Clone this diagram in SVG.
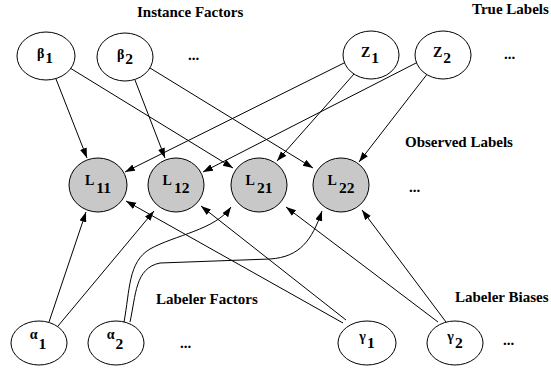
<svg xmlns="http://www.w3.org/2000/svg" width="551" height="368" viewBox="0 0 551 368">
<style>
.n{fill:#fff;stroke:#000;stroke-width:1}
.o{fill:#c8c8c8;stroke:#000;stroke-width:1}
text{font-family:"Liberation Serif","Times New Roman",serif;font-weight:bold;fill:#000}
.m{font-size:14px}
.s{font-size:15.5px}
.t{font-size:15px}
.e{fill:none;stroke:#000;stroke-width:1;marker-end:url(#a)}
</style>
<defs>
<marker id="a" markerUnits="userSpaceOnUse" markerWidth="11" markerHeight="8" refX="10" refY="3.5" orient="auto">
<path d="M0,0 L10,3.5 L0,7 z" fill="#000"/>
</marker>
</defs>
<rect width="551" height="368" fill="#fff"/>
<g id="connectors">
<path class="e" d="M56,79 L87,158"/>
<path class="e" d="M70,68 L233,168"/>
<path class="e" d="M135,80 L165,158"/>
<path class="e" d="M150,68 L313,168"/>
<path class="e" d="M346,62 L125,172"/>
<path class="e" d="M354,74 L277,161"/>
<path class="e" d="M418,62 L203,172"/>
<path class="e" d="M428,73 L359,162"/>
<path class="e" d="M49,322 L86,212"/>
<path class="e" d="M58,326 L154,211"/>
<path class="e" d="M124,322 C130,290 128,262 150,249 C175,235 215,230 231,207"/>
<path class="e" d="M130,322 C136,295 135,268 160,263 L270,259 C300,257 312,240 322,211"/>
<path class="e" d="M343,323 L126,201"/>
<path class="e" d="M346,320 L201,206"/>
<path class="e" d="M438,322 L286,207"/>
<path class="e" d="M446,322 L362,210"/>
</g>
<g id="beta1"><ellipse class="n" cx="46" cy="56" rx="29" ry="24"/><text x="45" y="58" text-anchor="middle"><tspan class="m">β</tspan><tspan class="s" dx="1" dy="5">1</tspan></text></g>
<g id="beta2"><ellipse class="n" cx="125" cy="57" rx="28" ry="24"/><text x="125" y="59" text-anchor="middle"><tspan class="m">β</tspan><tspan class="s" dx="1" dy="5">2</tspan></text></g>
<g id="z1"><ellipse class="n" cx="371" cy="55" rx="28" ry="24"/><text x="370" y="57" text-anchor="middle"><tspan class="m">Z</tspan><tspan class="s" dx="1" dy="6">1</tspan></text></g>
<g id="z2"><ellipse class="n" cx="443" cy="55" rx="28" ry="24"/><text x="442" y="57" text-anchor="middle"><tspan class="m">Z</tspan><tspan class="s" dx="1" dy="6">2</tspan></text></g>
<g id="l11"><ellipse class="o" cx="98" cy="185" rx="29" ry="27"/><text x="98" y="185" text-anchor="middle"><tspan class="m">L</tspan><tspan class="s" dx="2" dy="8">11</tspan></text></g>
<g id="l12"><ellipse class="o" cx="176" cy="185" rx="28" ry="27"/><text x="176" y="185" text-anchor="middle"><tspan class="m">L</tspan><tspan class="s" dx="2" dy="8">12</tspan></text></g>
<g id="l21"><ellipse class="o" cx="259" cy="185" rx="28" ry="27"/><text x="259" y="185" text-anchor="middle"><tspan class="m">L</tspan><tspan class="s" dx="2" dy="8">21</tspan></text></g>
<g id="l22"><ellipse class="o" cx="341" cy="185" rx="28" ry="27"/><text x="341" y="185" text-anchor="middle"><tspan class="m">L</tspan><tspan class="s" dx="2" dy="8">22</tspan></text></g>
<g id="alpha1"><ellipse class="n" cx="39" cy="343" rx="28" ry="22"/><text x="38" y="339" text-anchor="middle"><tspan class="m">α</tspan><tspan class="s" dx="1" dy="10">1</tspan></text></g>
<g id="alpha2"><ellipse class="n" cx="116" cy="343" rx="28" ry="22"/><text x="115" y="339" text-anchor="middle"><tspan class="m">α</tspan><tspan class="s" dx="1" dy="10">2</tspan></text></g>
<g id="gamma1"><ellipse class="n" cx="367" cy="343" rx="29" ry="22"/><text x="367" y="341" text-anchor="middle"><tspan class="m">γ</tspan><tspan class="s" dx="1" dy="7">1</tspan></text></g>
<g id="gamma2"><ellipse class="n" cx="455" cy="343" rx="28" ry="22"/><text x="455" y="341" text-anchor="middle"><tspan class="m">γ</tspan><tspan class="s" dx="1" dy="7">2</tspan></text></g>
<g id="labels">
<text class="t" x="137" y="17">Instance Factors</text>
<text class="t" x="472" y="14">True Labels</text>
<text class="t" x="405" y="147">Observed Labels</text>
<text class="t" x="156" y="304">Labeler Factors</text>
<text class="t" x="455" y="302">Labeler Biases</text>
<text class="t" x="188" y="60">...</text>
<text class="t" x="504" y="59">...</text>
<text class="t" x="409" y="192">...</text>
<text class="t" x="180" y="348">...</text>
<text class="t" x="503" y="345">...</text>
</g>
</svg>
